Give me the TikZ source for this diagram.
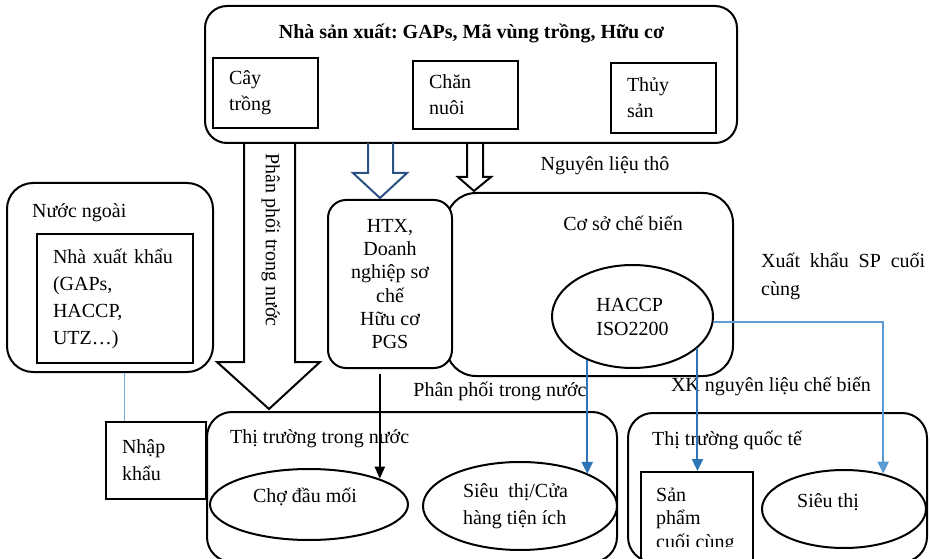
\documentclass[tikz,border=0pt]{standalone}
\usepackage{fontspec}
\setmainfont{Liberation Serif}
\usetikzlibrary{shapes.geometric,arrows.meta}
\definecolor{arrowblue}{RGB}{44,82,132}
\definecolor{linkblue}{RGB}{46,117,182}
\definecolor{skyblue}{RGB}{91,155,213}
\definecolor{paleblue}{RGB}{120,170,215}
\frenchspacing

\begin{document}
\begin{tikzpicture}[x=1pt,y=-1pt,font=\fontsize{20}{26}\selectfont]%
\tikzstyle{groupbox} = [draw, line width=2pt, rectangle, rounded corners=22pt, fill=white]
\tikzstyle{itembox} = [draw, line width=2pt, rectangle, inner xsep=16pt, align=left]
\tikzstyle{market} = [draw, line width=2pt, ellipse]
\tikzstyle{bigarrow} = [draw, line width=2pt, line join=miter]
\tikzstyle{flow} = [line width=2pt, -{Triangle[length=12pt,width=11pt]}]
\tikzstyle{lbl} = [inner sep=0pt]

\useasboundingbox (0,0) rectangle (930,559);
\clip (0,0) rectangle (930,559);

% producers
\node [groupbox, minimum width=532pt, minimum height=137pt] (producer) at (471,74.5) {};
\node [font=\fontsize{20}{26}\selectfont\bfseries] (ptitle) at (471.5,33) {Nhà sản xuất: GAPs, Mã vùng trồng, Hữu cơ};
\node [itembox, text width=73pt, minimum height=70pt] (crop) at (265.5,93) {Cây\\trồng};
\node [itembox, text width=73pt, minimum height=68pt] (livestock) at (465.5,95) {Chăn\\nuôi};
\node [itembox, text width=73pt, minimum height=70pt] (fishery) at (663.5,98) {Thủy\\sản};

% arrows out of the producers
\draw [bigarrow] (244,143) -- (244,362) -- (217,362) -- (269,409) -- (320,362) -- (295,362) -- (295,143);
\node [rotate=-90] (sidelabel) at (271,240) {Phân phối trong nước};
\draw [bigarrow, draw=arrowblue] (368,143) -- (368,173) -- (353,173) -- (380,198) -- (407,173) -- (393,173) -- (393,143);
\draw [bigarrow] (467,143) -- (467,177) -- (458,177) -- (474,191) -- (491,177) -- (483,177) -- (483,143);
\node (rawlabel) at (605,166) {Nguyên liệu thô};

% foreign side
\node [groupbox, rounded corners=26pt, minimum width=206pt, minimum height=189pt] (foreign) at (110,277.5) {};
\node [lbl, anchor=west] (foreigntitle) at (32,213) {Nước ngoài};
\node [itembox, text width=124pt, minimum height=129pt, font=\fontsize{20}{27}\selectfont] (exporter) at (115,298.5) {Nhà xuất khẩu\\(GAPs,\\HACCP,\\UTZ…)};
\node [itembox, text width=68pt, minimum height=77pt, font=\fontsize{20}{27}\selectfont] (import) at (156,460.5) {Nhập\\khẩu};
\coordinate (tap) at ([xshift=19pt]import.north west);

% processing
\node [groupbox, rounded corners=30pt, minimum width=287pt, minimum height=183pt] (processor) at (589.5,284.5) {};
\node (proctitle) at (623,223) {Cơ sở chế biến};
\node [groupbox, rounded corners=18pt, minimum width=124pt, minimum height=168pt, align=center, font=\fontsize{20}{23.3}\selectfont] (coop) at (390,284) {HTX,\\Doanh\\nghiệp sơ\\chế\\Hữu cơ\\PGS};
\node [market, minimum width=161pt, minimum height=103pt, align=left, font=\fontsize{20}{24}\selectfont] (haccp) at (632.5,316.5) {HACCP\\ISO2200};

\node [lbl, anchor=west, align=left, font=\fontsize{20}{28}\selectfont] (exportlabel) at (761,276) {\makebox[164pt][s]{Xuất khẩu SP cuối}\\cùng};
\node (xklabel) at (771,386) {XK nguyên liệu chế biến};
\node (distlabel) at (500,391) {Phân phối trong nước};

% markets
\node [groupbox, rounded corners=25pt, minimum width=410pt, minimum height=150pt] (domestic) at (412,487) {};
\node [lbl, anchor=west] (domtitle) at (230,439) {Thị trường trong nước};
\node [market, minimum width=198pt, minimum height=71pt] (wholesale) at (309,504.5) {};
\node (wholesalelbl) at (305,497) {Chợ đầu mối};
\node [market, minimum width=194pt, minimum height=88pt] (retail) at (520,506) {};
\node [lbl, align=left, font=\fontsize{20}{27}\selectfont] (retaillbl) at (515.5,506) {\makebox[105pt][s]{Siêu thị/Cửa}\\hàng tiện ích};

\node [groupbox, rounded corners=25pt, minimum width=299pt, minimum height=149pt] (intl) at (777.5,487.5) {};
\node [lbl, anchor=west] (intltitle) at (652,440) {Thị trường quốc tế};
\node [draw, line width=2pt, minimum width=112pt, minimum height=108pt] (product) at (697,526) {};
\begin{scope}
\clip (641,472) rectangle (753,546);
\node [lbl, anchor=west, align=left, font=\fontsize{20}{23.5}\selectfont] (productlbl) at (656,520) {Sản\\phẩm\\cuối cùng};
\end{scope}
\node [market, minimum width=164pt, minimum height=78pt] (superintl) at (844,509) {};
\node (superintllbl) at (828,502) {Siêu thị};

% connectors
\draw [line width=1pt, paleblue] (tap |- foreign.south) -- (tap);
\draw [flow, -{Triangle[length=12pt,width=10pt]}, shorten <=5pt] (wholesale.20 |- coop.south) -- (wholesale.20);
\draw [flow, linkblue] (haccp.224) -- (haccp.224 |- retail.25);
\draw [flow, linkblue] (haccp.334) -- (haccp.334 |- product.north);
\draw [flow, skyblue] (haccp.-4) -| (superintl.42);
\end{tikzpicture}
\end{document}
